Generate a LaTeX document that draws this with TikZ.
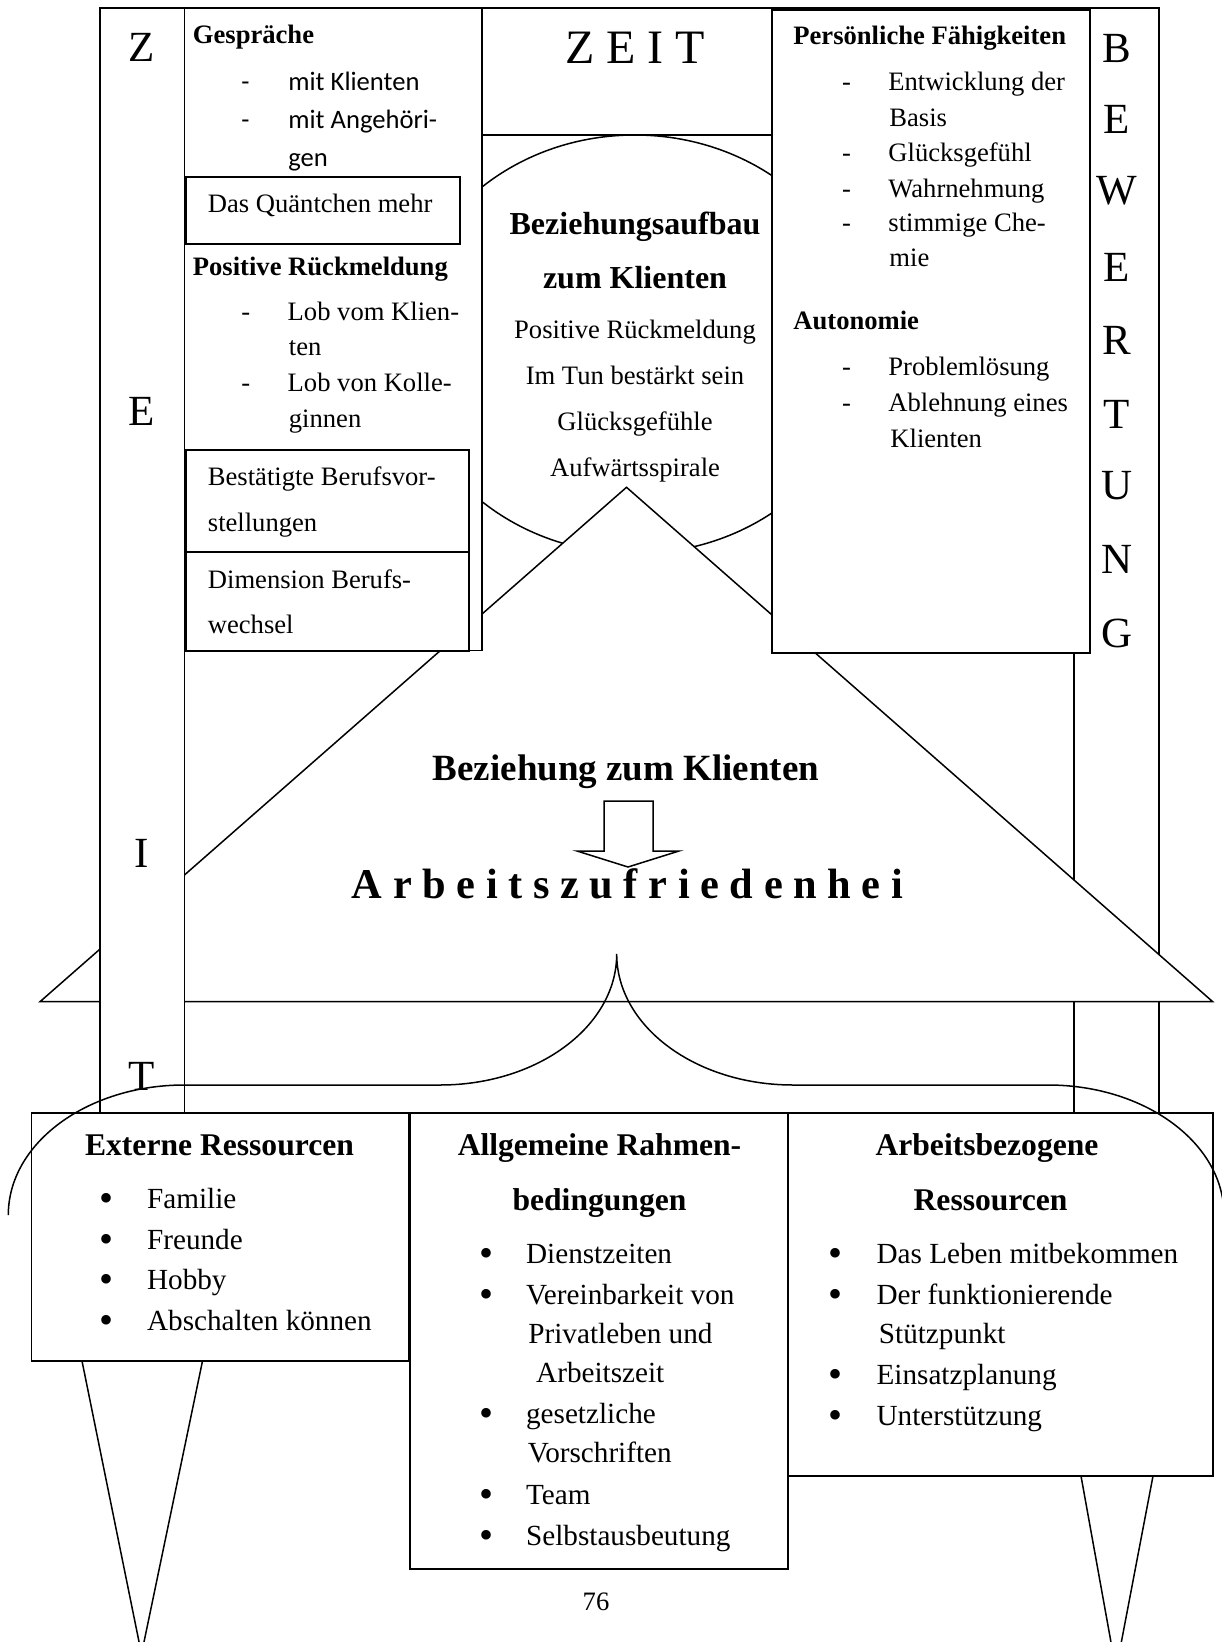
\documentclass[tikz,border=0pt]{standalone}
\usepackage{fontspec}
\setmainfont{Liberation Serif}
\newfontfamily\calibrifont{Carlito}
\usepackage{tikz}
\usetikzlibrary{positioning}

\tikzset{
  frame/.style={line width=0.75pt},
  whitebox/.style={draw, fill=white, line width=0.75pt},
  body/.style={inner sep=0pt, anchor=base west, font=\fontsize{13.3}{16}\selectfont},
  bodysans/.style={inner sep=0pt, anchor=base west, font=\calibrifont\fontsize{13.3}{16}\selectfont},
  head/.style={inner sep=0pt, anchor=base west, font=\bfseries\fontsize{13.3}{16}\selectfont},
  midtext/.style={inner sep=0pt, anchor=base, font=\fontsize{13.3}{16}\selectfont},
  midhead/.style={inner sep=0pt, anchor=base, font=\bfseries\fontsize{16}{19}\selectfont},
  listtxt/.style={inner sep=0pt, anchor=base west, font=\fontsize{14.6}{18}\selectfont},
  bullet/.style={inner sep=0pt, anchor=base, yshift=-1.5pt, font=\fontsize{20}{24}\selectfont},
  listhead/.style={inner sep=0pt, anchor=base, font=\bfseries\fontsize{15.8}{19}\selectfont},
  sideletter/.style={inner sep=0pt, font=\fontsize{21.5}{26}\selectfont},
}

\begin{document}
\begin{tikzpicture}[x=0.5pt, y=-0.5pt]
  \useasboundingbox (0,0) rectangle (1221,1642);
  \fill[white] (0,0) rectangle (1221,1642);

  % Outer frame and BEWERTUNG column
  \draw[frame] (100,8) rectangle (1159,1113);
  \draw[frame] (1074,8) -- (1074,1113);

  % Circle under the ZEIT box
  \draw[frame] (634.8,344.3) ellipse [x radius=231.6, y radius=209.3];
  \draw[frame] (482,8) rectangle (772,135);

  % Roof
  \draw[whitebox] (626.5,487.3) -- (40,1001.7) -- (1212.7,1001.7) -- cycle;

  % ZEIT column
  \draw[whitebox] (100,8) rectangle (184.5,1113);

  % Left column boxes
  \draw[whitebox] (184.5,8) rectangle (482,650.5);
  \draw[whitebox] (186,177) rectangle (460,244);
  \draw[whitebox] (186,450) rectangle (469,552);
  \draw[whitebox] (186,552) rectangle (469,651);

  % Right column box
  \draw[whitebox] (772,10) rectangle (1090,653);

  % Bottom boxes
  \draw[whitebox] (31.5,1113) rectangle (409,1361);
  \draw[whitebox] (410,1113) rectangle (788,1569);
  \draw[whitebox] (788,1113) rectangle (1213,1476);

  % Pins
  \draw[frame] (82,1361) -- (141.5,1654) -- (202.5,1361);
  \draw[frame] (1081,1476) -- (1116,1670) -- (1153,1476);

  % Brace
  \draw[frame] (8.3,1215) arc[start angle=180, end angle=270, x radius=176, y radius=130]
    -- (440,1085) arc[start angle=90, end angle=0, x radius=176.7, y radius=131]
    arc[start angle=180, end angle=90, x radius=176.3, y radius=131]
    -- (1048,1085) arc[start angle=270, end angle=360, x radius=176, y radius=130];

  % Block arrow
  \draw[whitebox] (604,801) -- (653,801) -- (653,851) -- (679,851) -- (628,867) -- (577,851) -- (604,851) -- cycle;

  % Side letters
  \node[sideletter] (zz) at (142,47) {Z};
  \node[sideletter] (ze) at (142,411) {E};
  \node[sideletter] (zi) at (142,853) {I};
  \node[sideletter] (zt) at (142,1076) {T};
  \node[sideletter] (bb) at (1117,48) {B};
  \node[sideletter] (be) at (1117,119) {E};
  \node[sideletter] (bw) at (1117,191) {W};
  \node[sideletter] (be2) at (1117,267) {E};
  \node[sideletter] (br) at (1117,340) {R};
  \node[sideletter] (bt) at (1117,414) {T};
  \node[sideletter] (bu) at (1117,486) {U};
  \node[sideletter] (bn) at (1117,559) {N};
  \node[sideletter] (bg) at (1117,633) {G};
  \node[inner sep=0pt, font=\fontsize{24}{28}\selectfont] (zeit) at (635,48) {Z E I T};

  % Left column text
  \node[head] (gesp) at (192.5,43.4) {Gespräche};
  \node[bodysans] (gd1) at (241,91) {-};
  \node[bodysans] (gt1) at (288,91) {mit Klienten};
  \node[bodysans] (gd2) at (241,129) {-};
  \node[bodysans] (gt2) at (288,129) {mit Angehöri-};
  \node[bodysans] (gt3) at (288,167) {gen};
  \node[body] (quant) at (207.5,212.5) {Das Quäntchen mehr};
  \node[head] (posr) at (192.5,275.4) {Positive Rückmeldung};
  \node[body] (pd1) at (241,321) {-};
  \node[body] (pt1) at (287.3,321) {Lob vom Klien-};
  \node[body] (pt2) at (288.5,355.6) {ten};
  \node[body] (pd2) at (241,391.6) {-};
  \node[body] (pt3) at (287.3,391.6) {Lob von Kolle-};
  \node[body] (pt4) at (288.5,427) {ginnen};
  \node[body] (best1) at (207.5,485.5) {Bestätigte Berufsvor-};
  \node[body] (best2) at (207.5,531) {stellungen};
  \node[body] (dim1) at (207.5,588.3) {Dimension Berufs-};
  \node[body] (dim2) at (207.5,633) {wechsel};

  % Right column text
  \node[head] (pers) at (793,44.7) {Persönliche Fähigkeiten};
  \node[body] (fd1) at (841.6,91) {-};
  \node[body] (ft1) at (888,91) {Entwicklung der};
  \node[body] (ft2) at (889,126.5) {Basis};
  \node[body] (fd2) at (841.6,161.3) {-};
  \node[body] (ft3) at (888,161.3) {Glücksgefühl};
  \node[body] (fd3) at (841.6,197.3) {-};
  \node[body] (ft4) at (888,197.3) {Wahrnehmung};
  \node[body] (fd4) at (841.6,232) {-};
  \node[body] (ft5) at (888,232) {stimmige Che-};
  \node[body] (ft6) at (889,266.7) {mie};
  \node[head] (auto) at (793,329.6) {Autonomie};
  \node[body] (ad1) at (841.6,375) {-};
  \node[body] (at1) at (888,375) {Problemlösung};
  \node[body] (ad2) at (841.6,411) {-};
  \node[body] (at2) at (888,411) {Ablehnung eines};
  \node[body] (at3) at (890,447) {Klienten};

  % Circle text
  \node[midhead] (bz1) at (635,234.5) {Beziehungsaufbau};
  \node[midhead] (bz2) at (635,289) {zum Klienten};
  \node[midtext] (bz3) at (635,339) {Positive Rückmeldung};
  \node[midtext] (bz4) at (635,384.5) {Im Tun bestärkt sein};
  \node[midtext] (bz5) at (635,430) {Glücksgefühle};
  \node[midtext] (bz6) at (635,476) {Aufwärtsspirale};

  % Roof text
  \node[inner sep=0pt, anchor=base, font=\bfseries\fontsize{18.5}{22}\selectfont] (bzk) at (626,780) {Beziehung zum Klienten};
  \node[inner sep=0pt, anchor=base, font=\bfseries\fontsize{21.2}{26}\selectfont] (azf) at (627.5,898.3) {A r b e i t s z u f r i e d e n h e i};

  % Externe Ressourcen
  \node[listhead] (ext) at (219.5,1155) {Externe Ressourcen};
  \node[bullet] (eb1) at (106.7,1208.3) {\textbullet};
  \node[listtxt] (et1) at (146.7,1208.3) {Familie};
  \node[bullet] (eb2) at (106.7,1249) {\textbullet};
  \node[listtxt] (et2) at (146.7,1249) {Freunde};
  \node[bullet] (eb3) at (106.7,1289.5) {\textbullet};
  \node[listtxt] (et3) at (146.7,1289.5) {Hobby};
  \node[bullet] (eb4) at (106.7,1330.5) {\textbullet};
  \node[listtxt] (et4) at (146.7,1330.5) {Abschalten können};

  % Allgemeine Rahmenbedingungen
  \node[listhead] (allg1) at (599.5,1155) {Allgemeine Rahmen-};
  \node[listhead] (allg2) at (599.5,1210) {bedingungen};
  \node[bullet] (rb1) at (486.8,1263) {\textbullet};
  \node[listtxt] (rt1) at (525.7,1263) {Dienstzeiten};
  \node[bullet] (rb2) at (486.8,1304) {\textbullet};
  \node[listtxt] (rt2) at (525.7,1304) {Vereinbarkeit von};
  \node[listtxt] (rt3) at (528,1343.5) {Privatleben und};
  \node[listtxt] (rt4) at (535.8,1382.5) {Arbeitszeit};
  \node[bullet] (rb5) at (486.8,1423) {\textbullet};
  \node[listtxt] (rt5) at (525.7,1423) {gesetzliche};
  \node[listtxt] (rt6) at (527.5,1462) {Vorschriften};
  \node[bullet] (rb7) at (486.8,1504) {\textbullet};
  \node[listtxt] (rt7) at (525.7,1504) {Team};
  \node[bullet] (rb8) at (486.8,1545) {\textbullet};
  \node[listtxt] (rt8) at (525.7,1545) {Selbstausbeutung};

  % Arbeitsbezogene Ressourcen
  \node[listhead] (arb1) at (987,1155) {Arbeitsbezogene};
  \node[listhead] (arb2) at (990.6,1210) {Ressourcen};
  \node[bullet] (wb1) at (835.7,1263) {\textbullet};
  \node[listtxt] (wt1) at (876.2,1263) {Das Leben mitbekommen};
  \node[bullet] (wb2) at (835.7,1304) {\textbullet};
  \node[listtxt] (wt2) at (876.2,1304) {Der funktionierende};
  \node[listtxt] (wt3) at (878.5,1343.5) {Stützpunkt};
  \node[bullet] (wb4) at (835.7,1384.5) {\textbullet};
  \node[listtxt] (wt4) at (876.2,1384.5) {Einsatzplanung};
  \node[bullet] (wb5) at (835.7,1425) {\textbullet};
  \node[listtxt] (wt5) at (876.2,1425) {Unterstützung};

  % Page number
  \node[midtext] (page) at (596,1610) {76};
\end{tikzpicture}
\end{document}
